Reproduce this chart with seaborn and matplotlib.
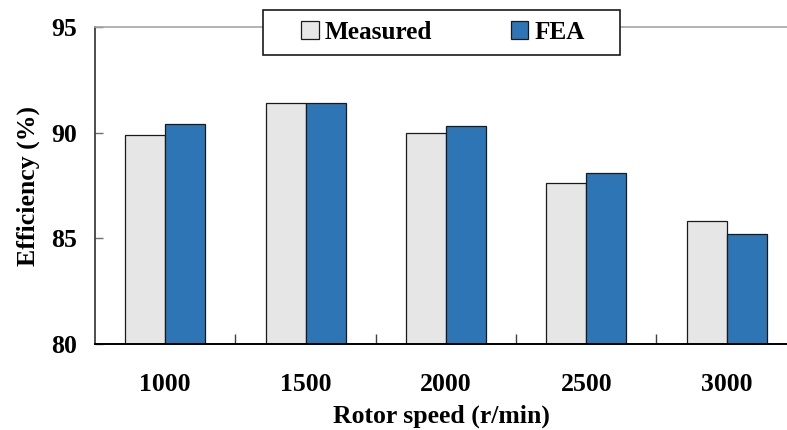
import matplotlib
matplotlib.use("Agg")
import matplotlib.pyplot as plt
import seaborn as sns
import pandas as pd
from matplotlib.patches import Rectangle, Patch

speeds = ["1000", "1500", "2000", "2500", "3000"]
measured = [89.9, 91.4, 90.0, 87.6, 85.8]
fea = [90.4, 91.4, 90.3, 88.1, 85.2]
series = ["Measured", "FEA"]
colors = ["#E6E6E6", "#2E75B6"]
yticks = [80, 85, 90, 95]

sns.set_style("white")
plt.rcParams['font.family'] = ['Liberation Serif', 'DejaVu Serif']
plt.rcParams['font.weight'] = 'bold'
plt.rcParams['axes.labelweight'] = 'bold'
plt.rcParams['text.color'] = 'black'
plt.rcParams['axes.labelcolor'] = 'black'
plt.rcParams['xtick.labelcolor'] = 'black'
plt.rcParams['ytick.labelcolor'] = 'black'

df = pd.DataFrame({
    "speed": speeds * 2,
    "eff": measured + fea,
    "series": [series[0]] * len(speeds) + [series[1]] * len(speeds),
})

fig = plt.figure(figsize=(7.87, 4.30), dpi=100)
ax = fig.add_axes([95 / 787, 86 / 430, 692 / 787, 317 / 430])
sns.barplot(data=df, x="speed", y="eff", hue="series", palette=colors,
            saturation=1, width=0.57, gap=0, edgecolor="#1a1a1a",
            linewidth=0.9, legend=False, ax=ax)

ax.set_ylim(80, 95)
ax.set_xlim(-0.5, 4.43)
ax.set_yticks(yticks)
ax.set_yticklabels([str(t) for t in yticks])
ax.tick_params(axis='y', left=True, direction='in', length=6, width=1,
               color='#707070', labelcolor='black', labelsize=18.5, pad=13)
ax.set_xticks(range(len(speeds)))
ax.set_xticklabels(speeds)
ax.tick_params(axis='x', which='major', length=0, pad=21, labelsize=18.5,
               labelcolor='black')
ax.set_xticks([i + 0.5 for i in range(len(speeds) - 1)], minor=True)
ax.tick_params(axis='x', which='minor', bottom=True, direction='in',
               length=7, width=1, color='#404040')

ax.spines['right'].set_visible(False)
ax.spines['top'].set_color('#a6a6a6')
ax.spines['top'].set_linewidth(1.2)
ax.spines['left'].set_color('#303030')
ax.spines['left'].set_linewidth(1.2)
ax.spines['bottom'].set_color('black')
ax.spines['bottom'].set_linewidth(1.4)

ax.set_xlabel("Rotor speed (r/min)", fontsize=18.5, labelpad=6,
              fontweight='bold', color='black')
ax.set_ylabel("Efficiency (%)", fontsize=18.5, labelpad=8,
              fontweight='bold', color='black')

rect = Rectangle((263 / 787, 1 - 55 / 430), (620 - 263) / 787, 45 / 430,
                 transform=fig.transFigure, facecolor='white',
                 edgecolor='#1a1a1a', lw=1.2, zorder=4)
fig.add_artist(rect)
handles = [Patch(facecolor=c, edgecolor='#1a1a1a', linewidth=0.9) for c in colors]
leg = fig.legend(handles, series, loc='center',
                 bbox_to_anchor=(443 / 787, 1 - 32.5 / 430), ncol=2,
                 frameon=False, handlelength=0.7, handleheight=0.7,
                 handletextpad=0.25, columnspacing=3.1,
                 prop={'weight': 'bold', 'size': 18.2})
for t in leg.get_texts():
    t.set_color('black')

fig.savefig("out.png", dpi=100)
